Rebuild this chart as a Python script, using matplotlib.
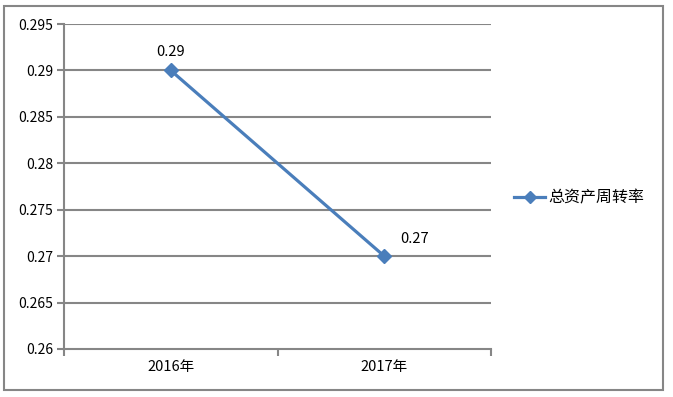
import matplotlib
matplotlib.use("Agg")
import matplotlib.pyplot as plt
from matplotlib.patches import Rectangle
from matplotlib.lines import Line2D

plt.rcParams['font.family'] = ['Noto Sans CJK SC', 'DejaVu Sans']

categories = ["2016年", "2017年"]
values = [0.29, 0.27]
series_name = "总资产周转率"
yticks = [0.26, 0.265, 0.27, 0.275, 0.28, 0.285, 0.29, 0.295]
ytick_labels = ["0.26", "0.265", "0.27", "0.275", "0.28", "0.285", "0.29", "0.295"]

gray = "#868686"
blue = "#4A7EBB"

fig = plt.figure(figsize=(6.73, 3.97), dpi=100)
fig.patches.append(Rectangle((4/673, 1-390/397), 659/673, 384/397, transform=fig.transFigure,
                             fill=False, edgecolor=gray, linewidth=1.5, zorder=0))

ax = fig.add_axes([64/673, 1-349/397, 427/673, 325/397])
x = list(range(len(categories)))
ax.plot(x, values, color=blue, linewidth=2.3, marker='D', markersize=7, zorder=3,
        label=series_name)
ax.set_xlim(-0.5, len(categories) - 0.5)
ax.set_ylim(0.26, 0.295)
ax.set_yticks(yticks)
ax.set_yticklabels(ytick_labels)
ax.set_xticks(x)
ax.set_xticklabels(categories)
ax.set_xticks([-0.5, 0.5, 1.5], minor=True)
ax.tick_params(axis='x', which='major', length=0, pad=8, labelsize=10.5)
ax.tick_params(axis='x', which='minor', length=5, color=gray, width=1.5, direction='out')
ax.tick_params(axis='y', length=5, color=gray, width=1.5, direction='out', labelsize=10, pad=3)

for yv in yticks[1:]:
    ax.axhline(yv, color=gray, linewidth=1.5, zorder=1)
for s in ['top', 'right']:
    ax.spines[s].set_visible(False)
for s in ['left', 'bottom']:
    ax.spines[s].set_color(gray)
    ax.spines[s].set_linewidth(1.5)

ax.annotate(f"{values[0]:.2f}", (x[0], values[0]), xytext=(0, 8), textcoords='offset points',
            ha='center', va='bottom', fontsize=10.5)
ax.annotate(f"{values[1]:.2f}", (x[1], values[1]), xytext=(22, 7), textcoords='offset points',
            ha='center', va='bottom', fontsize=10.5)

handle = Line2D([], [], color=blue, linewidth=2.3, marker='D', markersize=6)
fig.legend([handle], [series_name], loc='center left', bbox_to_anchor=(500/673, 1-198/397),
           frameon=False, fontsize=11.5, handlelength=1.9, handletextpad=0.25)

fig.savefig("out.png", dpi=100)
